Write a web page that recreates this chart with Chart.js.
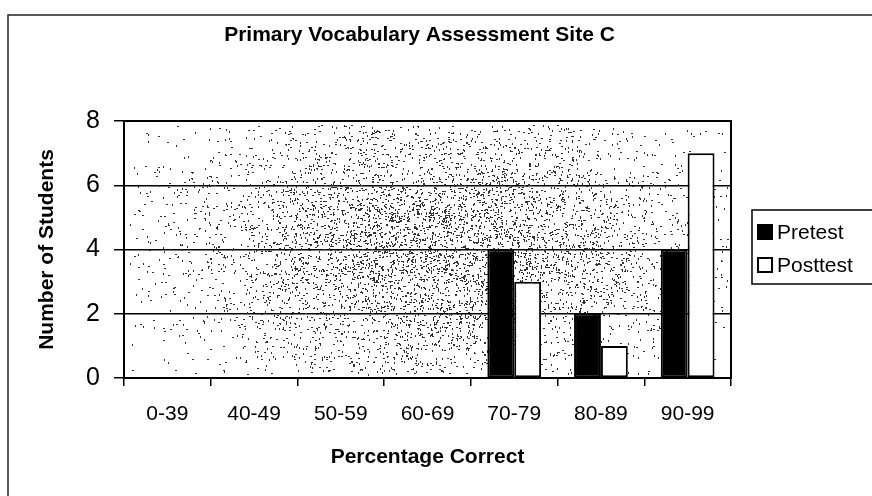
<!DOCTYPE html>
<html>
<head>
<meta charset="utf-8">
<script src="https://cdn.jsdelivr.net/npm/chart.js@4.4.0/dist/chart.umd.min.js"></script>
<style>
  html, body { margin: 0; padding: 0; background: #fff; }
  #wrap { width: 872px; height: 496px; position: relative; }
</style>
</head>
<body>
<div id="wrap"><canvas id="scoreChart"></canvas></div>
<script>
const categories = ['0-39', '40-49', '50-59', '60-69', '70-79', '80-89', '90-99'];
const pretest = [0, 0, 0, 0, 4, 2, 4];
const posttest = [0, 0, 0, 0, 3, 1, 7];
const seriesNames = ['Pretest', 'Posttest'];
const chartTitle = 'Primary Vocabulary Assessment Site C';
const xTitle = 'Percentage Correct';
const yTitle = 'Number of Students';

Chart.defaults.font.family = "'Liberation Sans', Arial, sans-serif";
Chart.defaults.color = '#000';

// speckled plot background, like the old scanned Excel fill
function drawSpeckle(ctx, area) {
  let s = 20240611;
  const rnd = () => { s = (Math.imul(s, 1664525) + 1013904223) >>> 0; return s / 4294967296; };
  const cx = area.left + area.width * 0.52, cy = area.top + area.height * 0.5;
  const sx = area.width * 0.22, sy = area.height * 0.3;
  ctx.save();
  ctx.fillStyle = '#333';
  for (let i = 0; i < 24000; i++) {
    const x = area.left + 4 + rnd() * (area.width - 8);
    const y = area.top + 4 + rnd() * (area.height - 8);
    const dx = (x - cx) / sx, dy = (y - cy) / sy;
    const p = 0.7 * Math.exp(-(dx * dx + dy * dy) / 2);
    if (rnd() < p) {
      const horiz = rnd() < 0.5;
      ctx.fillRect(Math.round(x), Math.round(y), horiz ? 2 : 1, horiz ? 1 : 2);
    }
  }
  ctx.restore();
}

const extras = {
  id: 'extras',
  beforeDraw(chart) {
    const ctx = chart.ctx;
    ctx.save();
    ctx.strokeStyle = '#222';
    ctx.lineWidth = 1.5;
    ctx.beginPath();
    ctx.moveTo(8, 500);
    ctx.lineTo(8, 15);
    ctx.lineTo(880, 15);
    ctx.stroke();
    ctx.restore();
  },
  beforeDatasetsDraw(chart) {
    drawSpeckle(chart.ctx, chart.chartArea);
  },
  afterDatasetsDraw(chart) {
    const {ctx, chartArea: a} = chart;
    ctx.save();
    ctx.strokeStyle = '#000';
    ctx.lineWidth = 2;
    ctx.strokeRect(a.left, a.top, a.right - a.left, a.bottom - a.top);
    ctx.restore();
  },
  afterDraw(chart) {
    const ctx = chart.ctx;
    const a = chart.chartArea;
    ctx.save();
    // title
    ctx.font = "bold 21px 'Liberation Sans', Arial, sans-serif";
    ctx.fillStyle = '#000';
    ctx.textAlign = 'center';
    ctx.textBaseline = 'middle';
    ctx.fillText(chartTitle, (a.left + a.right) / 2 - 8, 35);
    // legend box
    ctx.lineWidth = 1.5;
    ctx.strokeStyle = '#000';
    ctx.strokeRect(752, 210, 130, 74);
    ctx.font = "21px 'Liberation Sans', Arial, sans-serif";
    ctx.textAlign = 'left';
    chart.data.datasets.forEach((ds, i) => {
      const y = 232 + i * 33;
      ctx.fillStyle = ds.backgroundColor;
      ctx.fillRect(758, y - 7, 14, 14);
      ctx.lineWidth = 2;
      ctx.strokeRect(758, y - 7, 14, 14);
      ctx.fillStyle = '#000';
      ctx.fillText(ds.label, 777, y + 1);
    });
    ctx.restore();
  }
};

new Chart(document.getElementById('scoreChart').getContext('2d'), {
  type: 'bar',
  data: {
    labels: categories,
    datasets: [
      {
        label: seriesNames[0],
        data: pretest,
        backgroundColor: '#000',
        borderColor: '#000',
        borderWidth: 2,
        borderSkipped: false
      },
      {
        label: seriesNames[1],
        data: posttest,
        backgroundColor: '#fff',
        borderColor: '#000',
        borderWidth: 2,
        borderSkipped: false
      }
    ]
  },
  options: {
    responsive: true,
    maintainAspectRatio: false,
    animation: false,
    layout: { padding: { left: 0, right: 141, top: 121, bottom: 0 } },
    datasets: { bar: { categoryPercentage: 0.62, barPercentage: 1.0 } },
    plugins: {
      legend: { display: false },
      title: { display: false },
      tooltip: { enabled: false }
    },
    scales: {
      x: {
        grid: { drawOnChartArea: false, drawTicks: true, tickLength: 8, color: '#000', lineWidth: 1.5 },
        border: { display: true, color: '#000', width: 2 },
        ticks: { font: { size: 21 }, padding: 16, maxRotation: 0 },
        title: { display: true, text: xTitle, font: { size: 21, weight: 'bold' }, padding: { top: 0, bottom: 26 } },
        afterFit(scale) { scale.height = 118; }
      },
      y: {
        min: 0,
        max: 8,
        ticks: { stepSize: 2, font: { size: 25 }, padding: 14 },
        grid: { color: '#000', lineWidth: 1.5, tickLength: 10 },
        border: { display: true, color: '#000', width: 2 },
        title: { display: true, text: yTitle, font: { size: 21, weight: 'bold' }, padding: { top: 35, bottom: 0 } },
        afterFit(scale) { scale.width = 124; }
      }
    }
  },
  plugins: [extras]
});
</script>
</body>
</html>
